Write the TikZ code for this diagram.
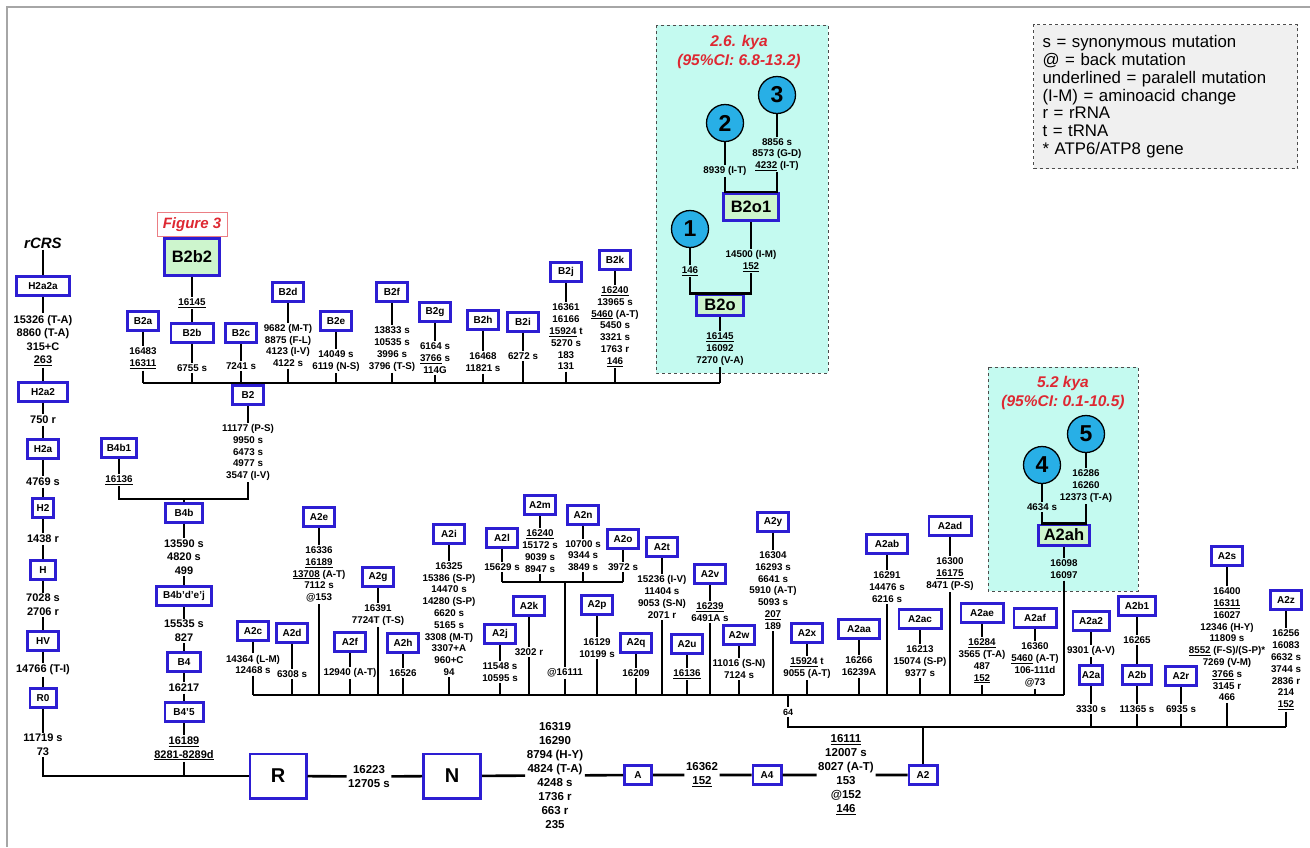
\documentclass[tikz,border=0pt]{standalone}
\usepackage{fontspec}
\setmainfont{Liberation Sans}
\definecolor{hgblue}{RGB}{45,30,210}
\definecolor{cladegreen}{RGB}{205,245,205}
\definecolor{eracyan}{RGB}{196,250,240}
\definecolor{smpblue}{RGB}{40,175,230}
\definecolor{agered}{RGB}{222,40,50}
\definecolor{legendgray}{RGB}{240,240,240}
\begin{document}
\begin{tikzpicture}[x=1pt, y=-1pt,
	hg/.style={draw=hgblue, line width=2.8pt, fill=white, minimum width=30.6pt, minimum height=19.6pt, inner sep=2pt, font=\bfseries\fontsize{10}{12}\selectfont},
	clade/.style={hg, fill=cladegreen, font=\bfseries\fontsize{16.5}{18}\selectfont},
	rootbox/.style={hg, minimum width=56.2pt, minimum height=44.2pt, font=\bfseries\fontsize{20}{22}\selectfont},
	mut/.style={align=center, inner sep=1.5pt, font=\bfseries\fontsize{9.8}{11.8}\selectfont},
	mutl/.style={mut, font=\bfseries\fontsize{11}{13.6}\selectfont},
	mutb/.style={mut, font=\bfseries\fontsize{11.5}{14}\selectfont},
	smp/.style={circle, draw, line width=1.3pt, fill=smpblue, minimum size=37pt, inner sep=0pt, font=\bfseries\fontsize{23}{23}\selectfont},
	era/.style={draw=black!70, dashed, line width=1pt, fill=eracyan},
	agetxt/.style={align=center, text=agered, font=\bfseries\itshape\fontsize{15.5}{19}\selectfont},
	ln/.style={line width=2.6pt}]
	\useasboundingbox (0,0) rectangle (1310,847);
	\draw[gray!70, line width=2pt] (7,847) -- (7,7) -- (1310,7);
	
	\node[draw=black!70, dashed, line width=1pt, fill=legendgray, anchor=north west, text width=246pt, inner xsep=9pt, inner ysep=11pt, align=left, font=\fontsize{16.8}{17.8}\selectfont] (legend) at (1033,24) {s = synonymous mutation\\@ = back mutation\\underlined = paralell mutation\\(I-M) = aminoacid change\\r = rRNA\\t = tRNA\\{*} ATP6/ATP8 gene};
	
	\draw[era] (656,25) rectangle (828,373);
	\draw[era] (988,367) rectangle (1138,591);
	\node[agetxt] (age1) at (739,51.5) {2.6. kya\\(95\%CI: 6.8-13.2)};
	\node[agetxt] (age2) at (1063,392.5) {5.2 kya\\(95\%CI: 0.1-10.5)};
	
	% H column
	\node[font=\bfseries\itshape\fontsize{15}{17}\selectfont, inner sep=1pt] (rcrs) at (43,243) {rCRS};
	\node[hg, minimum width=53.2pt] (h2a2a) at (43,286) {H2a2a};
	\node[mutl] (th2a2a) at (43,340.5) {15326 (T-A)\\8860 (T-A)\\315+C\\\underline{263}};
	\node[hg, minimum width=49.2pt] (h2a2) at (43,392) {H2a2};
	\node[mutl] (th2a2) at (43,420) {750 r};
	\node[hg] (h2a) at (43,449) {H2a};
	\node[mutl] (th2a) at (43,482) {4769 s};
	\node[hg, minimum width=21.2pt] (h2) at (43,508) {H2};
	\node[mutl] (th2) at (43,539) {1438 r};
	\node[hg, minimum width=25.2pt] (hh) at (43,570) {H};
	\node[mutl] (thh) at (43,605) {7028 s\\2706 r};
	\node[hg] (hv) at (43,641) {HV};
	\node[mutl] (thv) at (43,670) {14766 (T-I)};
	\node[hg, minimum width=26.2pt] (r0) at (43,698) {R0};
	\node[mutl] (tr0) at (43,745) {11719 s\\73};
	\node[rootbox] (rr) at (278,776) {R};
	\draw[ln] (rcrs) -- (h2a2a) -- (th2a2a) -- (h2a2) -- (th2a2) -- (h2a) -- (th2a) -- (h2) -- (th2) -- (hh) -- (thh) -- (hv) -- (thv) -- (r0) -- (tr0) |- (rr);
	
	% B4 column
	\coordinate (b4bar) at (184,499);
	\node[hg, minimum width=35.2pt] (b4b1) at (119,448) {B4b1};
	\node[mut] (tb4b1) at (119,480) {\underline{16136}};
	\node[hg] (b2) at (248,395) {B2};
	\node[mut] (tb2) at (248,452.5) {11177 (P-S)\\9950 s\\6473 s\\4977 s\\3547 (I-V)};
	\node[hg, minimum width=37.2pt] (b4b) at (184,513) {B4b};
	\node[mutl] (tb4b) at (184,557) {13590 s\\4820 s\\499};
	\node[hg, minimum width=55.2pt] (b4bdej) at (184,596) {B4b'd'e'j};
	\node[mutl] (tb4bdej) at (184,631) {15535 s\\827};
	\node[hg, minimum width=33.2pt] (b4) at (184,662) {B4};
	\node[mutl] (tb4) at (184,688) {16217};
	\node[hg, minimum width=38.2pt] (b45) at (184,712) {B4'5};
	\node[mutl] (tb45) at (184,748.5) {\underline{16189}\\\underline{8281-8289d}};
	\draw[ln] (b4b1) -- (tb4b1) |- (b4bar) -| (tb2) -- (b2);
	\draw[ln] (b4bar) -- (b4b) -- (tb4b) -- (b4bdej) -- (tb4bdej) -- (b4) -- (tb4) -- (b45) -- (tb45) -- (tb45 |- rr);
	
	% B2 branches
	\coordinate (b2bar) at (143,383);
	\coordinate (b2end) at (720,383);
	\draw[ln] (b2bar) -- (b2end);
	\node[hg, fill=cladegreen, minimum width=55.2pt, minimum height=37.2pt, font=\bfseries\fontsize{16.5}{18}\selectfont] (b2b2) at (192,257) {B2b2};
	\node[draw=agered!60, line width=1pt, fill=white, minimum width=70pt, minimum height=24pt, inner sep=1pt, text=agered, font=\bfseries\itshape\fontsize{15}{17}\selectfont] (fig3) at (192,224.5) {Figure 3};
	\node[mut] (tb2b2) at (192,303) {\underline{16145}};
	\node[hg] (b2a) at (143,321) {B2a};
	\node[mut] (tb2a) at (143,358.5) {16483\\\underline{16311}};
	\node[hg, minimum width=42.2pt] (b2b) at (192,333) {B2b};
	\node[mut] (tb2b) at (192,368) {6755 s};
	\node[hg] (b2c) at (241,333) {B2c};
	\node[mut] (tb2c) at (241,366) {7241 s};
	\node[hg] (b2d) at (288,292) {B2d};
	\node[mut] (tb2d) at (288,345.5) {9682 (M-T)\\8875 (F-L)\\4123 (I-V)\\4122 s};
	\node[hg] (b2e) at (336,321) {B2e};
	\node[mut] (tb2e) at (336,361) {14049 s\\6119 (N-S)};
	\node[hg] (b2f) at (392,292) {B2f};
	\node[mut] (tb2f) at (392,349) {13833 s\\10535 s\\3996 s\\3796 (T-S)};
	\node[hg] (b2g) at (435,312) {B2g};
	\node[mut] (tb2g) at (435,358) {6164 s\\\underline{3766} s\\114G};
	\node[hg] (b2h) at (483,320) {B2h};
	\node[mut] (tb2h) at (483,362.5) {16468\\11821 s};
	\node[hg] (b2i) at (523,322) {B2i};
	\node[mut] (tb2i) at (523,356) {6272 s};
	\node[hg] (b2j) at (566,272) {B2j};
	\node[mut] (tb2j) at (566,337) {16361\\16166\\\underline{15924} t\\5270 s\\183\\131};
	\node[hg] (b2k) at (615,260) {B2k};
	\node[mut] (tb2k) at (615,326.5) {\underline{16240}\\13965 s\\\underline{5460} (A-T)\\5450 s\\3321 s\\1763 r\\\underline{146}};
	\draw[ln] (b2a) -- (tb2a) -- (tb2a |- b2bar);
	\draw[ln] (b2b2) -- (tb2b2) -- (b2b) -- (tb2b) -- (tb2b |- b2bar);
	\draw[ln] (b2c) -- (tb2c) -- (tb2c |- b2bar);
	\draw[ln] (b2d) -- (tb2d) -- (tb2d |- b2bar);
	\draw[ln] (b2e) -- (tb2e) -- (tb2e |- b2bar);
	\draw[ln] (b2f) -- (tb2f) -- (tb2f |- b2bar);
	\draw[ln] (b2g) -- (tb2g) -- (tb2g |- b2bar);
	\draw[ln] (b2h) -- (tb2h) -- (tb2h |- b2bar);
	\draw[ln] (b2i) -- (tb2i) -- (tb2i |- b2bar);
	\draw[ln] (b2j) -- (tb2j) -- (tb2j |- b2bar);
	\draw[ln] (b2k) -- (tb2k) -- (tb2k |- b2bar);
	
	% B2o samples
	\node[smp] (s3) at (777,95) {3};
	\node[smp] (s2) at (725,123) {2};
	\node[smp] (s1) at (690,229) {1};
	\node[mut] (ts2) at (725,171) {8939 (I-T)};
	\node[mut] (ts3) at (777,154.5) {8856 s\\8573 (G-D)\\\underline{4232} (I-T)};
	\node[clade, minimum width=55.2pt, minimum height=27.2pt] (b2o1) at (751,207) {B2o1};
	\node[mut] (tb2o1) at (751,261) {14500 (I-M)\\\underline{152}};
	\node[mut] (ts1) at (690,271) {\underline{146}};
	\node[clade, minimum width=47.2pt, minimum height=20.2pt] (b2o) at (720,305) {B2o};
	\node[mut] (tb2o) at (720,349) {\underline{16145}\\16092\\7270 (V-A)};
	\draw[ln] (s2) -- (ts2) |- (b2o1.north) -| (ts3) -- (s3);
	\draw[ln] (b2o1) -- (tb2o1) |- (b2o.north) -| (ts1) -- (s1);
	\draw[ln] (b2o) -- (tb2o) -- (tb2o |- b2bar);
	
	% A2 branches
	\coordinate (a2bar) at (253,695);
	\coordinate (a2end) at (1064,695);
	\draw[ln] (a2bar) -- (a2end);
	\node[hg] (a2c) at (253,631) {A2c};
	\node[mut] (ta2c) at (253,664.5) {14364 (L-M)\\12468 s};
	\node[hg] (a2d) at (292,633) {A2d};
	\node[mut] (ta2d) at (292,674) {6308 s};
	\node[hg] (a2e) at (319,517) {A2e};
	\node[mut] (ta2e) at (319,574.5) {16336\\\underline{16189}\\\underline{13708} (A-T)\\7112 s\\@153};
	\node[hg] (a2f) at (350,642) {A2f};
	\node[mut] (ta2f) at (350,673) {12940 (A-T)};
	\node[hg] (a2g) at (378,577) {A2g};
	\node[mut] (ta2g) at (378,615) {16391\\7724T (T-S)};
	\node[hg] (a2h) at (403,643) {A2h};
	\node[mut] (ta2h) at (403,673) {16526};
	\node[hg] (a2i) at (449,534) {A2i};
	\node[mut] (ta2i) at (449,619) {16325\\15386 (S-P)\\14470 s\\14280 (S-P)\\6620 s\\5165 s\\3308 (M-T)\\3307+A\\960+C\\94};
	\node[hg] (a2j) at (500,634) {A2j};
	\node[mut] (ta2j) at (500,672) {11548 s\\10595 s};
	\node[hg] (a2k) at (529,606) {A2k};
	\node[mut] (ta2k) at (529,652) {3202 r};
	\coordinate (a2lbar) at (502,582);
	\coordinate (a2obar) at (623,582);
	\node[hg] (a2l) at (502,538) {A2l};
	\node[mut] (ta2l) at (502,567) {15629 s};
	\node[hg] (a2m) at (540,505) {A2m};
	\node[mut] (ta2m) at (540,551) {\underline{16240}\\15172 s\\9039 s\\8947 s};
	\node[hg] (a2n) at (583,515) {A2n};
	\node[mut] (ta2n) at (583,555.5) {10700 s\\9344 s\\3849 s};
	\node[hg] (a2o) at (623,539) {A2o};
	\node[mut] (ta2o) at (623,567) {3972 s};
	\node[mut] (tback) at (565,673) {@16111};
	\node[hg] (a2p) at (597,605) {A2p};
	\node[mut] (ta2p) at (597,648) {16129\\10199 s};
	\node[hg] (a2q) at (636,643) {A2q};
	\node[mut] (ta2q) at (636,673) {16209};
	\node[hg] (a2t) at (662,547) {A2t};
	\node[mut] (ta2t) at (662,597) {15236 (I-V)\\11404 s\\9053 (S-N)\\2071 r};
	\node[hg] (a2u) at (687,644) {A2u};
	\node[mut] (ta2u) at (687,674) {\underline{16136}};
	\node[hg] (a2v) at (710,574) {A2v};
	\node[mut] (ta2v) at (710,612) {\underline{16239}\\6491A s};
	\node[hg] (a2w) at (739,635) {A2w};
	\node[mut] (ta2w) at (739,669) {11016 (S-N)\\7124 s};
	\node[hg] (a2y) at (773,522) {A2y};
	\node[mut] (ta2y) at (773,590.5) {16304\\16293 s\\6641 s\\5910 (A-T)\\5093 s\\\underline{207}\\189};
	\node[hg] (a2x) at (807,633) {A2x};
	\node[mut] (ta2x) at (807,668) {\underline{15924} t\\9055 (A-T)};
	\node[hg, minimum width=41.2pt] (a2aa) at (859,629) {A2aa};
	\node[mut] (ta2aa) at (859,666.5) {16266\\16239A};
	\node[hg, minimum width=41.2pt] (a2ab) at (887,544) {A2ab};
	\node[mut] (ta2ab) at (887,587) {16291\\14476 s\\6216 s};
	\node[hg, minimum width=42.2pt] (a2ac) at (920,619) {A2ac};
	\node[mut] (ta2ac) at (920,661) {16213\\15074 (S-P)\\9377 s};
	\node[hg, minimum width=42.2pt] (a2ad) at (950,526) {A2ad};
	\node[mut] (ta2ad) at (950,574) {16300\\\underline{16175}\\8471 (P-S)};
	\node[hg, minimum width=42.2pt] (a2ae) at (982,613) {A2ae};
	\node[mut] (ta2ae) at (982,661) {\underline{16284}\\3565 (T-A)\\487\\\underline{152}};
	\node[hg, minimum width=42.2pt] (a2af) at (1035,618) {A2af};
	\node[mut] (ta2af) at (1035,665) {16360\\\underline{5460} (A-T)\\106-111d\\@73};
	\draw[ln] (a2c) -- (ta2c) -- (ta2c |- a2bar);
	\draw[ln] (a2d) -- (ta2d) -- (ta2d |- a2bar);
	\draw[ln] (a2e) -- (ta2e) -- (ta2e |- a2bar);
	\draw[ln] (a2f) -- (ta2f) -- (ta2f |- a2bar);
	\draw[ln] (a2g) -- (ta2g) -- (ta2g |- a2bar);
	\draw[ln] (a2h) -- (ta2h) -- (ta2h |- a2bar);
	\draw[ln] (a2i) -- (ta2i) -- (ta2i |- a2bar);
	\draw[ln] (a2j) -- (ta2j) -- (ta2j |- a2bar);
	\draw[ln] (a2k) -- (ta2k) -- (ta2k |- a2bar);
	\draw[ln] (a2lbar) -- (a2obar);
	\draw[ln] (a2l) -- (ta2l) -- (ta2l |- a2lbar);
	\draw[ln] (a2m) -- (ta2m) -- (ta2m |- a2lbar);
	\draw[ln] (a2n) -- (ta2n) -- (ta2n |- a2lbar);
	\draw[ln] (a2o) -- (ta2o) -- (ta2o |- a2lbar);
	\draw[ln] (tback |- a2lbar) -- (tback) -- (tback |- a2bar);
	\draw[ln] (a2p) -- (ta2p) -- (ta2p |- a2bar);
	\draw[ln] (a2q) -- (ta2q) -- (ta2q |- a2bar);
	\draw[ln] (a2t) -- (ta2t) -- (ta2t |- a2bar);
	\draw[ln] (a2u) -- (ta2u) -- (ta2u |- a2bar);
	\draw[ln] (a2v) -- (ta2v) -- (ta2v |- a2bar);
	\draw[ln] (a2w) -- (ta2w) -- (ta2w |- a2bar);
	\draw[ln] (a2y) -- (ta2y) -- (ta2y |- a2bar);
	\draw[ln] (a2x) -- (ta2x) -- (ta2x |- a2bar);
	\draw[ln] (a2aa) -- (ta2aa) -- (ta2aa |- a2bar);
	\draw[ln] (a2ab) -- (ta2ab) -- (ta2ab |- a2bar);
	\draw[ln] (a2ac) -- (ta2ac) -- (ta2ac |- a2bar);
	\draw[ln] (a2ad) -- (ta2ad) -- (ta2ad |- a2bar);
	\draw[ln] (a2ae) -- (ta2ae) -- (ta2ae |- a2bar);
	\draw[ln] (a2af) -- (ta2af) -- (ta2af |- a2bar);
	
	% A2ah samples
	\node[smp] (s5) at (1086,434) {5};
	\node[smp] (s4) at (1042,465) {4};
	\node[mut] (ts5) at (1086,486) {16286\\16260\\12373 (T-A)};
	\node[mut] (ts4) at (1042,507) {4634 s};
	\node[clade, minimum width=51.2pt, minimum height=20.2pt] (a2ah) at (1064,535) {A2ah};
	\node[mut] (ta2ah) at (1064,569.5) {16098\\16097};
	\draw[ln] (s4) -- (ts4) |- (a2ah.north) -| (ts5) -- (s5);
	\draw[ln] (a2ah) -- (ta2ah) -- (ta2ah |- a2bar);
	
	% A2 second branch
	\coordinate (a2sbar) at (788,727);
	\coordinate (a2send) at (1286,727);
	\node[mut, font=\bfseries\fontsize{9}{10}\selectfont] (t64) at (788,712) {64};
	\draw[ln] (t64 |- a2bar) -- (t64) -- (t64 |- a2sbar) -- (a2send);
	\node[hg, minimum width=36.2pt] (a2a2) at (1091,621) {A2a2};
	\node[mut] (ta2a2) at (1091,651) {9301 (A-V)};
	\node[hg, minimum width=23.2pt] (a2a) at (1091,675) {A2a};
	\node[mut] (ta2a) at (1091,709) {3330 s};
	\node[hg, minimum width=37.2pt] (a2b1) at (1137,606) {A2b1};
	\node[mut] (ta2b1) at (1137,640) {16265};
	\node[hg, minimum width=29.2pt] (a2b) at (1137,675) {A2b};
	\node[mut] (ta2b) at (1137,709) {11365 s};
	\node[hg] (a2r) at (1181,676) {A2r};
	\node[mut] (ta2r) at (1181,709) {6935 s};
	\node[hg] (a2s) at (1227,556) {A2s};
	\node[mut] (ta2s) at (1227,644.5) {16400\\\underline{16311}\\16027\\12346 (H-Y)\\11809 s\\\underline{8552} (F-S)/(S-P)*\\7269 (V-M)\\\underline{3766} s\\3145 r\\466};
	\node[hg] (a2z) at (1286,600) {A2z};
	\node[mut] (ta2z) at (1286,670) {16256\\16083\\6632 s\\3744 s\\2836 r\\214\\\underline{152}};
	\draw[ln] (a2a2) -- (ta2a2) -- (a2a) -- (ta2a) -- (ta2a |- a2sbar);
	\draw[ln] (a2b1) -- (ta2b1) -- (a2b) -- (ta2b) -- (ta2b |- a2sbar);
	\draw[ln] (a2r) -- (ta2r) -- (ta2r |- a2sbar);
	\draw[ln] (a2s) -- (ta2s) -- (ta2s |- a2sbar);
	\draw[ln] (a2z) -- (ta2z) -- (ta2z |- a2sbar);
	
	% trunk
	\node[mutb] (trr) at (369,776.5) {16223\\12705 s};
	\node[rootbox, minimum width=57.2pt] (nn) at (452,776) {N};
	\node[mutb] (tnn) at (555,775.5) {16319\\16290\\8794 (H-Y)\\4824 (T-A)\\4248 s\\1736 r\\663 r\\235};
	\node[hg, minimum width=27.2pt] (aa) at (638,775) {A};
	\node[mutb] (taa) at (702,775) {16362\\\underline{152}};
	\node[hg, minimum width=28.2pt] (a4) at (767,775) {A4};
	\node[mutb] (ta4) at (846,775) {\underline{16111}\\12007 s\\8027 (A-T)\\153\\@152\\\underline{146}};
	\node[hg, minimum width=28.2pt] (a2) at (923,775) {A2};
	\draw[ln] (rr) -- (trr) -- (nn) -- (tnn) -- (aa) -- (taa) -- (a4) -- (ta4) -- (a2);
	\draw[ln] (a2) -- (a2 |- a2sbar);
\end{tikzpicture}
\end{document}
